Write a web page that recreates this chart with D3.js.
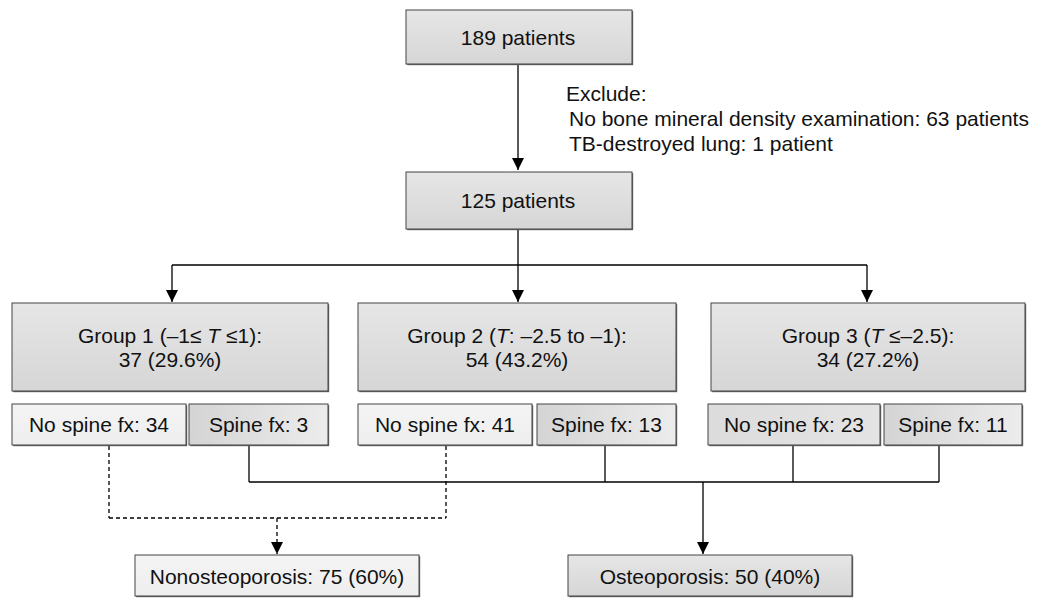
<!DOCTYPE html>
<html>
<head>
<meta charset="utf-8">
<script src="https://cdn.jsdelivr.net/npm/d3@7"></script>
<style>
  body { margin: 0; background: #fff; }
  svg { display: block; font-family: "Liberation Sans", Arial, sans-serif; }
</style>
</head>
<body>
<svg width="1038" height="601"></svg>
<script>
// data
const totalCount = [189, 125]
const excludeLines = ["Exclude:", "No bone mineral density examination: 63 patients", "TB-destroyed lung: 1 patient"]
const groupNames = ["Group 1", "Group 2", "Group 3"]
const groupRanges = [["(–1≤ ", "T", " ≤1):"], ["(", "T", ": –2.5 to –1):"], ["(", "T", " ≤–2.5):"]]
const groupCounts = ["37 (29.6%)", "54 (43.2%)", "34 (27.2%)"]
const noSpine = [34, 41, 23]
const spine = [3, 13, 11]
const outcomes = ["Nonosteoporosis: 75 (60%)", "Osteoporosis: 50 (40%)"]

// layout (pixels)
const svg = d3.select("svg")
const defs = svg.append("defs")

function grad(id, dir, c1, c2) {
    const g = defs.append("linearGradient").attr("id", id)
    if (dir == "v") g.attr("x1", 0).attr("y1", 0).attr("x2", 0).attr("y2", 1)
    else g.attr("x1", 0).attr("y1", 0).attr("x2", 1).attr("y2", 0)
    g.append("stop").attr("offset", "0%").attr("stop-color", c1)
    g.append("stop").attr("offset", "100%").attr("stop-color", c2)
}
grad("gMain", "v", "#e6e6e6", "#d6d6d6")
grad("gLight", "v", "#f4f4f4", "#eeeeee")
grad("gSpine", "h", "#d4d4d4", "#ececec")
grad("gMid", "h", "#dcdcdc", "#e4e4e4")

defs.append("marker").attr("id", "arr").attr("viewBox", "0 0 10 10")
    .attr("refX", 10).attr("refY", 5).attr("markerWidth", 12).attr("markerHeight", 12)
    .attr("markerUnits", "userSpaceOnUse").attr("orient", "auto")
    .append("path").attr("d", "M0,0 L10,5 L0,10 Z").attr("fill", "#000")

const fs = 21

function box(x, y, w, h, fill) {
    svg.append("rect").attr("x", x + 1.2).attr("y", y + 1.2).attr("width", w).attr("height", h)
        .attr("fill", "#666")
    svg.append("rect").attr("x", x).attr("y", y).attr("width", w).attr("height", h)
        .attr("fill", fill).attr("stroke", "#444").attr("stroke-width", 1)
}
function label(x, y, t) {
    return svg.append("text").attr("x", x).attr("y", y).attr("text-anchor", "middle")
        .attr("dominant-baseline", "central").attr("font-size", fs).attr("fill", "#111").text(t)
}
function line(pts, dashed, arrow) {
    const p = svg.append("path").attr("d", d3.line()(pts)).attr("fill", "none")
        .attr("stroke", "#000").attr("stroke-width", 1.3)
    if (dashed) p.attr("stroke-dasharray", "4,3")
    if (arrow) p.attr("marker-end", "url(#arr)")
}

// connectors first
line([[518, 64], [518, 170]], false, true)
line([[518, 229], [518, 265]])
line([[172, 265], [867, 265]])
const groupX = [172, 518, 867]
groupX.forEach(x => line([[x, 265], [x, 302]], false, true))

const spineX = [249, 605, 793, 939]
line([[249, 482], [939, 482]])
spineX.forEach(x => line([[x, 446], [x, 482]]))
line([[703, 482], [703, 554]], false, true)

const noX = [109, 446]
line([[109, 518], [446, 518]], true)
noX.forEach(x => line([[x, 446], [x, 518]], true))
line([[277, 518], [277, 554]], true, true)

// top boxes
box(406, 10, 226, 54, "url(#gMain)")
label(518, 37, totalCount[0] + " patients")
box(406, 172, 226, 57, "url(#gMain)")
label(518, 200, totalCount[1] + " patients")

excludeLines.forEach((t, i) => {
    svg.append("text").attr("x", i == 0 ? 566 : 569).attr("y", 93 + i * 25)
        .attr("dominant-baseline", "central").attr("font-size", fs).attr("fill", "#111").text(t)
})

// groups
const groupBox = [[12, 316], [358, 318], [711, 314]]
groupBox.forEach((b, i) => {
    box(b[0], 303, b[1], 88, "url(#gMain)")
    const t = label(b[0] + b[1] / 2, 335, null)
    t.append("tspan").text(groupNames[i] + " " + groupRanges[i][0])
    t.append("tspan").attr("font-style", "italic").text(groupRanges[i][1])
    t.append("tspan").text(groupRanges[i][2])
    label(b[0] + b[1] / 2, 359, groupCounts[i])
})

// sub boxes
const noBox = [[12, 174], [358, 174], [708, 172]]
const spBox = [[189, 139], [537, 139], [884, 138]]
const noFill = ["url(#gLight)", "url(#gLight)", "url(#gMid)"]
noBox.forEach((b, i) => {
    box(b[0], 404, b[1], 41, noFill[i])
    label(b[0] + b[1] / 2, 424, "No spine fx: " + noSpine[i])
})
spBox.forEach((b, i) => {
    box(b[0], 404, b[1], 41, "url(#gSpine)")
    label(b[0] + b[1] / 2, 424, "Spine fx: " + spine[i])
})

// outcomes
box(135, 555, 284, 41, "url(#gLight)")
label(277, 576, outcomes[0])
box(568, 555, 284, 41, "url(#gMain)")
label(710, 576, outcomes[1])
</script>
</body>
</html>
